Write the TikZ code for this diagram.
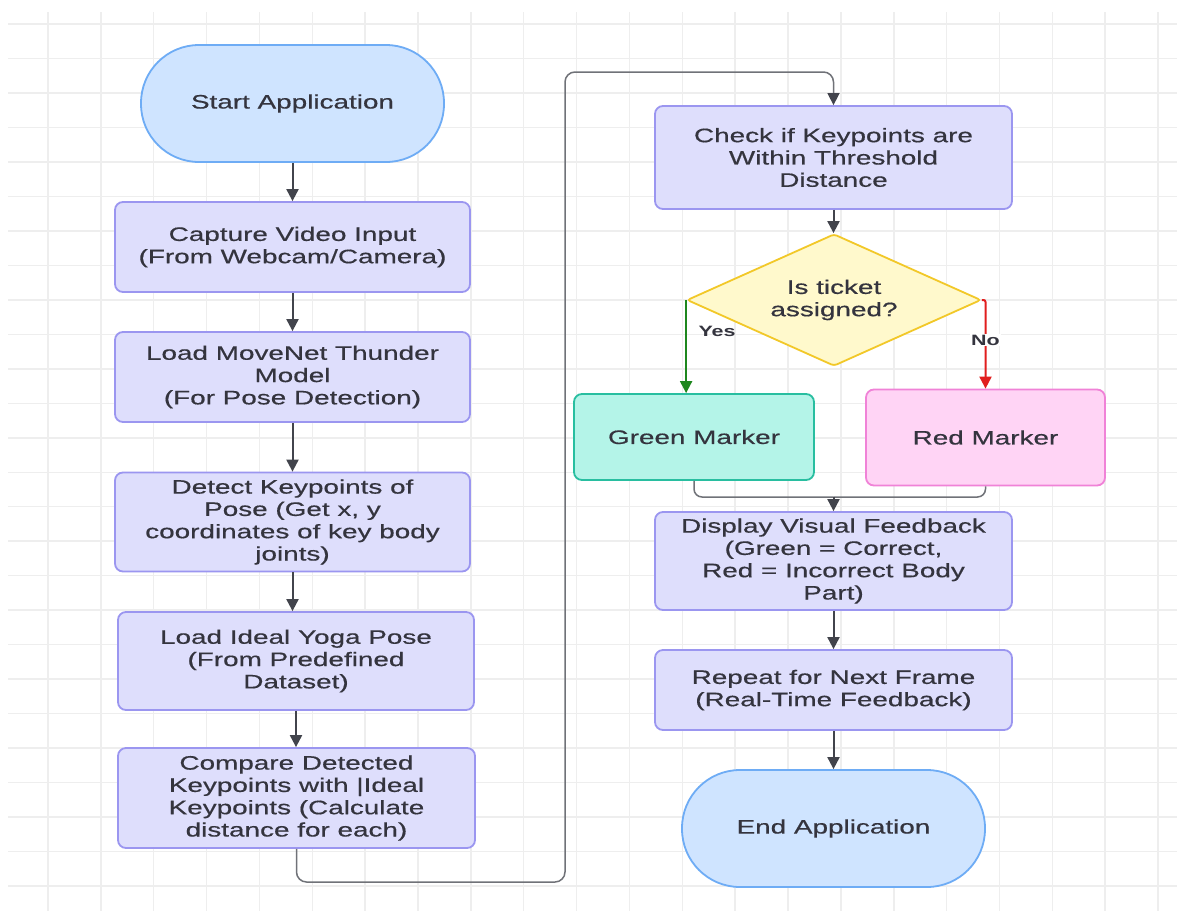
\documentclass[tikz,border=0pt]{standalone}
\usepackage{fontspec}
\setmainfont{Liberation Sans}[FakeStretch=1.43, UprightFeatures={FakeBold=0.5}]
\newfontfamily\lblfont{Liberation Sans Bold}[FakeStretch=1.43]
\usetikzlibrary{shapes.geometric,arrows.meta,calc}
\definecolor{gridc}{RGB}{238,238,238}
\definecolor{txt}{RGB}{52,52,62}
\definecolor{procfill}{RGB}{222,222,252}
\definecolor{procdraw}{RGB}{155,150,240}
\definecolor{termfill}{RGB}{207,228,255}
\definecolor{termdraw}{RGB}{110,172,245}
\definecolor{decfill}{RGB}{255,249,204}
\definecolor{decdraw}{RGB}{242,200,40}
\definecolor{grnfill}{RGB}{180,244,232}
\definecolor{grndraw}{RGB}{40,190,160}
\definecolor{redfill}{RGB}{255,212,245}
\definecolor{reddraw}{RGB}{240,130,215}
\definecolor{arr}{RGB}{66,68,76}
\definecolor{loopc}{RGB}{112,114,120}
\definecolor{yesc}{RGB}{30,135,30}
\definecolor{noc}{RGB}{225,30,30}
\tikzset{
  basebox/.style={line width=1.8pt, align=center, text=txt, inner sep=0pt,
    font=\fontsize{19.5}{22.3}\selectfont},
  proc/.style={basebox, draw=procdraw, fill=procfill, rounded corners=8pt, minimum width=355pt},
  term/.style={basebox, draw=termdraw, fill=termfill, rounded corners=58pt, minimum width=303pt, minimum height=117pt},
  dec/.style={basebox, diamond, draw=decdraw, fill=decfill, rounded corners=3pt, aspect=2.23, minimum width=294pt, minimum height=132pt},
  grnbox/.style={basebox, draw=grndraw, fill=grnfill, rounded corners=8pt, minimum width=240pt, minimum height=86pt},
  redbox/.style={basebox, draw=reddraw, fill=redfill, rounded corners=8pt, minimum width=239pt, minimum height=96pt},
  flow/.style={draw=arr, line width=2pt, -{Triangle[width=12pt,length=12pt]}},
  loopflow/.style={draw=loopc, line width=1.5pt, rounded corners=10pt, -{Triangle[width=12pt,length=12pt,color=arr]}},
  mergeline/.style={draw=loopc, line width=1.5pt, rounded corners=8pt},
  yesflow/.style={draw=yesc, line width=2pt, -{Triangle[width=12pt,length=12pt]}},
  noflow/.style={draw=noc, line width=2pt, rounded corners=2pt, -{Triangle[width=12pt,length=12pt]}},
  lbl/.style={text=txt, inner sep=1pt, font=\lblfont\fontsize{15}{17}\selectfont},
  gridline/.style={draw=gridc, line width=1.5pt}
}
\begin{document}
\begin{tikzpicture}[x=1pt, y=-1pt]
\useasboundingbox (0,0) rectangle (1177,911);
\fill[white] (0,0) rectangle (1177,911);
\foreach \i in {0,...,21} \draw[gridline] ({48+52.86*\i},12) -- ({48+52.86*\i},911);
\foreach \j in {0,...,25} \draw[gridline] (8,{24+34.48*\j}) -- (1177,{24+34.48*\j});

\node[term] (start) at (292.5,103.5) {Start Application};
\node[proc, minimum height=90pt] (cap) at (292.5,247) {Capture Video Input\\(From Webcam/Camera)};
\node[proc, minimum height=90pt] (load) at (292.5,377) {Load MoveNet Thunder\\Model\\(For Pose Detection)};
\node[proc, minimum height=99pt] (det) at (292.5,522) {Detect Keypoints of\\Pose (Get x, y\\coordinates of key body\\joints)};
\node[proc, minimum width=356pt, minimum height=98pt] (ideal) at (296,661) {Load Ideal Yoga Pose\\(From Predefined\\Dataset)};
\node[proc, minimum width=357pt, minimum height=100pt] (cmp) at (296.5,798) {Compare Detected\\Keypoints with |Ideal\\Keypoints (Calculate\\distance for each)};
\node[proc, minimum width=357pt, minimum height=103pt] (chk) at (833.5,157.5) {Check if Keypoints are\\Within Threshold\\Distance};
\node[dec] (dec) at (834,300) {Is ticket\\assigned?};
\node[grnbox] (gm) at (694,437) {Green Marker};
\node[redbox] (rm) at (985.5,437.5) {Red Marker};
\node[proc, minimum width=357pt, minimum height=98pt] (disp) at (833.5,561) {Display Visual Feedback\\(Green = Correct,\\Red = Incorrect Body\\Part)};
\node[proc, minimum width=357pt, minimum height=80pt] (rep) at (833.5,690) {Repeat for Next Frame\\(Real-Time Feedback)};
\node[term] (end) at (833.5,828.5) {End Application};

\coordinate (lb) at (565,882);
\coordinate (lt) at (565,72);
\coordinate (mg) at (833.5,497);

\draw[flow] (start.south) -- (cap.north);
\draw[flow] (cap.south) -- (load.north);
\draw[flow] (load.south) -- (det.north);
\draw[flow] (det.south) -- (det.south |- ideal.north);
\draw[flow] (ideal.south) -- (ideal.south |- cmp.north);
\draw[loopflow] (cmp.south) |- (lb) -- (lt) -| (chk.north);
\draw[flow] (chk.south) -- (chk.south |- dec.north);
\draw[yesflow] (dec.west) -- (dec.west |- gm.north);
\draw[noflow] (dec.east) -- (rm.north |- dec.east) -- (rm.north);
\node[lbl] (yes) at (717,331) {Yes};
\node[lbl, fill=white] (no) at (985.5,340) {No};
\draw[mergeline] (gm.south) |- (mg);
\draw[mergeline] (rm.south) |- (mg);
\draw[flow] (mg) -- (disp.north);
\draw[flow] (disp.south) -- (rep.north);
\draw[flow] (rep.south) -- (end.north);
\end{tikzpicture}
\end{document}
